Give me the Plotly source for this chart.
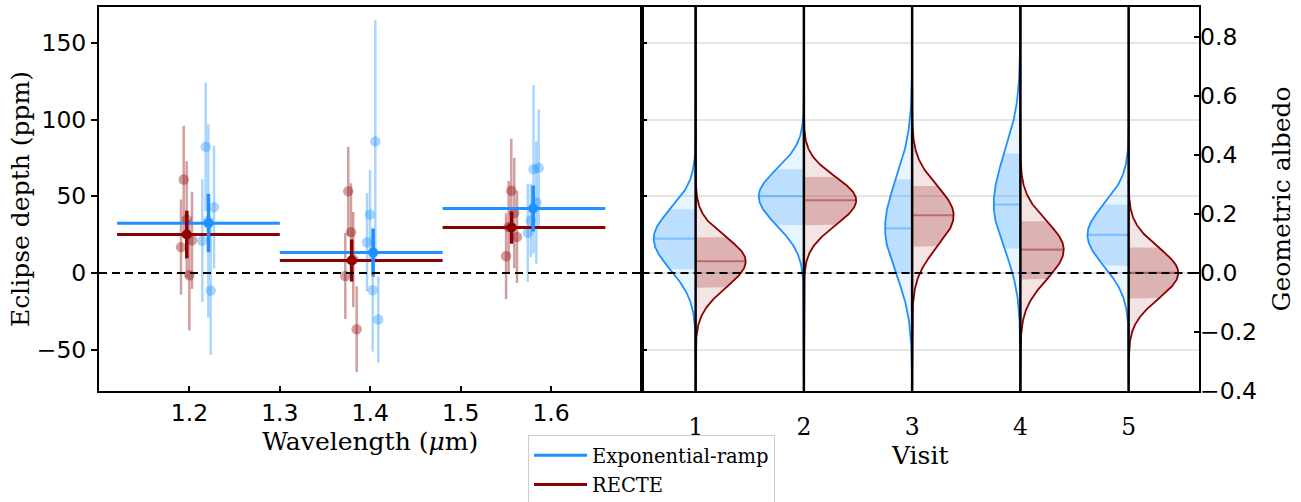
import numpy as np
import plotly.graph_objects as go

# ---------------- data ----------------
# wavelength bins (micron)
bin_lo = [1.12, 1.30, 1.48]
bin_hi = [1.30, 1.48, 1.66]

# band-averaged eclipse depths (ppm)
exp_wl = [1.2211, 1.4032, 1.5802]
exp_depth = [32.4, 13.3, 42.0]
exp_err = [19.0, 15.7, 15.0]

recte_wl = [1.1971, 1.3795, 1.5563]
recte_depth = [25.0, 8.1, 29.6]
recte_err = [15.5, 13.7, 10.5]

# individual-visit spectral points (ppm)
exp_visit_wl = [1.2143, 1.2180, 1.2209, 1.2235, 1.2272,
                1.3964, 1.3997, 1.4027, 1.4056, 1.4089,
                1.5742, 1.5775, 1.5806, 1.5837, 1.5863]
exp_visit_depth = [21.0, 82.2, 34.0, -11.5, 42.9,
                   20.0, 38.1, -11.3, 85.7, -30.4,
                   26.1, 34.2, 67.6, 45.9, 68.5]
exp_visit_err = [40, 42, 63, 42, 40,
                 32, 29, 40, 79, 28,
                 32, 24, 55, 40, 38]

recte_visit_wl = [1.1907, 1.1937, 1.1970, 1.1999, 1.2029,
                  1.3724, 1.3757, 1.3787, 1.3812, 1.3850,
                  1.5502, 1.5531, 1.5560, 1.5593, 1.5623]
recte_visit_depth = [16.8, 60.9, 34.8, -1.5, 21.3,
                     -2.0, 53.3, 26.5, 8.7, -36.7,
                     10.9, 30.0, 53.5, 39.1, 23.5]
recte_visit_err = [31, 35, 38, 36, 31.7,
                   28, 29, 32, 31, 28,
                   28, 30, 34, 36, 30]

# per-visit white-light posteriors (ppm): median and 16/84 percentiles
visits = [1, 2, 3, 4, 5]
exp_med = [22.4, 50.0, 29.1, 44.6, 24.8]
exp_lo = [2.2, 31.1, 0.0, 15.9, 4.6]
exp_hi = [41.5, 67.6, 60.9, 77.8, 44.6]
exp_min = [-77, -77, -77, -77, -77]
exp_max = [173.4, 173.4, 173.4, 173.4, 173.4]

recte_med = [7.6, 47.4, 37.6, 15.2, 0.0]
recte_lo = [-9.6, 31.1, 17.0, -4.3, -16.7]
recte_hi = [23.3, 62.6, 56.7, 33.7, 16.5]
recte_min = [-77, -77, -77, -77, -57]
recte_max = [173.4, 173.4, 173.4, 173.4, 60]

depth_ticks = [-50, 0, 50, 100, 150]
wl_ticks = [1.2, 1.3, 1.4, 1.5, 1.6]
albedo_ticks = [-0.4, -0.2, 0.0, 0.2, 0.4, 0.6, 0.8]

# ---------------- style ----------------
BLUE = "#1E90FF"
RED = "#8B0000"
def rgba(hexc, a):
    h = hexc.lstrip("#")
    return "rgba(%d,%d,%d,%.3f)" % (int(h[0:2], 16), int(h[2:4], 16), int(h[4:6], 16), a)

Y_RANGE = [-77.0, 173.4]
ALB_PER_PPM = 0.0052
VIOLIN_SCALE = 19.08  # x-units * ppm (area normalisation of violins)
SANS = "DejaVu Sans"
SERIF = "DejaVu Serif"
TICK_SIZE = 23.5
TITLE_SIZE = 25

fig = go.Figure()

# ---------------- left panel ----------------
for wl, d, e, col in [(recte_visit_wl, recte_visit_depth, recte_visit_err, RED),
                      (exp_visit_wl, exp_visit_depth, exp_visit_err, BLUE)]:
    fig.add_trace(go.Scatter(
        x=wl, y=d, mode="markers", showlegend=False, hoverinfo="skip",
        marker=dict(size=10.5, color=rgba(col, 0.38), line=dict(width=0)),
        error_y=dict(type="data", array=e, visible=True, color=rgba(col, 0.38),
                     thickness=2.5, width=0),
        xaxis="x", yaxis="y"))

for name, lo, hi, d, col in [("Exponential-ramp", bin_lo, bin_hi, exp_depth, BLUE),
                             ("RECTE", bin_lo, bin_hi, recte_depth, RED)]:
    xs, ys = [], []
    for a, b, v in zip(lo, hi, d):
        xs += [a, b, None]
        ys += [v, v, None]
    fig.add_trace(go.Scatter(x=xs, y=ys, mode="lines", name=name,
                             line=dict(color=col, width=3), legendgroup=name,
                             xaxis="x", yaxis="y"))

for wl, d, e, col in [(recte_wl, recte_depth, recte_err, RED),
                      (exp_wl, exp_depth, exp_err, BLUE)]:
    fig.add_trace(go.Scatter(
        x=wl, y=d, mode="markers", showlegend=False,
        marker=dict(size=10, color=col),
        error_y=dict(type="data", array=e, visible=True, color=col, thickness=3.5, width=0),
        xaxis="x", yaxis="y"))

# ---------------- right panel: split violins ----------------
def pdf(y, med, slo, shi):
    c = 2.0 / (np.sqrt(2 * np.pi) * (slo + shi))
    s = np.where(y < med, slo, shi)
    return c * np.exp(-0.5 * ((y - med) / s) ** 2)

for med_a, lo_a, hi_a, mn_a, mx_a, col, side in [
        (exp_med, exp_lo, exp_hi, exp_min, exp_max, BLUE, -1),
        (recte_med, recte_lo, recte_hi, recte_min, recte_max, RED, 1)]:
    bx, by, kx, ky, mx_, my_ = [], [], [], [], [], []
    for v, m, lo, hi, mn, mx in zip(visits, med_a, lo_a, hi_a, mn_a, mx_a):
        slo, shi = m - lo, hi - m
        yy = np.linspace(mn, mx, 500)
        w = VIOLIN_SCALE * pdf(yy, m, slo, shi)
        bx += [v] + list(v + side * w) + [v, None]
        by += [mn] + list(yy) + [mx, None]
        yb = np.linspace(lo, hi, 120)
        wb = VIOLIN_SCALE * pdf(yb, m, slo, shi)
        kx += [v] + list(v + side * wb) + [v, None]
        ky += [lo] + list(yb) + [hi, None]
        wm = VIOLIN_SCALE * pdf(np.array([m]), m, slo, shi)[0]
        mx_ += [v, v + side * wm, None]
        my_ += [m, m, None]
    fig.add_trace(go.Scatter(x=bx, y=by, mode="lines", fill="toself",
                             fillcolor=rgba(col, 0.10), line=dict(color=col, width=1.8),
                             showlegend=False, hoverinfo="skip", xaxis="x2", yaxis="y2"))
    fig.add_trace(go.Scatter(x=kx, y=ky, mode="lines", fill="toself",
                             fillcolor=rgba(col, 0.22), line=dict(width=0),
                             showlegend=False, hoverinfo="skip", xaxis="x2", yaxis="y2"))
    fig.add_trace(go.Scatter(x=mx_, y=my_, mode="lines",
                             line=dict(color=rgba(col, 0.40), width=2.2),
                             showlegend=False, hoverinfo="skip", xaxis="x2", yaxis="y2"))

# invisible trace to activate the albedo axis
fig.add_trace(go.Scatter(x=[visits[0]], y=[0], mode="markers", marker=dict(opacity=0),
                         showlegend=False, hoverinfo="skip", xaxis="x2", yaxis="y3"))

# ---------------- shapes ----------------
shapes = []
for xr, yr in [("x domain", "y"), ("x2 domain", "y2")]:
    shapes.append(dict(type="line", xref=xr, yref=yr, x0=0, x1=1, y0=0, y1=0,
                       line=dict(color="black", width=2, dash="8px,5px"), layer="above"))
for v in visits:
    shapes.append(dict(type="line", xref="x2", yref="y2 domain", x0=v, x1=v, y0=0, y1=1,
                       line=dict(color="black", width=2.5), layer="above"))

PLOT_L, PLOT_R, PLOT_T, PLOT_B = 99, 1199, 7, 391
PW, PH = PLOT_R - PLOT_L, PLOT_B - PLOT_T
split = (641.5 - PLOT_L) / PW
axis_common = dict(showline=True, linecolor="black", linewidth=2, mirror=True,
                   zeroline=False, tickcolor="black", tickwidth=2)

fig.update_layout(
    width=1301, height=502, autosize=False,
    margin=dict(l=PLOT_L, r=1301 - PLOT_R, t=PLOT_T, b=502 - PLOT_B, autoexpand=False),
    paper_bgcolor="white", plot_bgcolor="white",
    shapes=shapes,
    font=dict(family=SANS, size=TICK_SIZE, color="black"),
    xaxis=dict(domain=[0, split], range=[1.1, 1.7], tickvals=wl_ticks, ticktext=[f"{t:.1f}" for t in wl_ticks],
               ticks="inside", ticklen=5, showgrid=False,
               tickfont=dict(family=SANS, size=TICK_SIZE),
               title=dict(text="Wavelength (<i>μ</i>m)", font=dict(family=SERIF, size=TITLE_SIZE), standoff=0),
               anchor="y", **axis_common),
    yaxis=dict(domain=[0, 1], range=Y_RANGE, tickvals=depth_ticks, ticks="outside", ticklen=6,
               showgrid=False, tickfont=dict(family=SANS, size=TICK_SIZE),
               title=dict(text="Eclipse depth (ppm)", font=dict(family=SERIF, size=TITLE_SIZE), standoff=0),
               anchor="x", **axis_common),
    xaxis2=dict(domain=[split, 1], range=[0.5, 5.65], tickvals=visits, ticks="", showgrid=False,
                tickfont=dict(family=SERIF, size=TICK_SIZE), ticklabelstandoff=14,
                title=dict(text="Visit", font=dict(family=SERIF, size=TITLE_SIZE), standoff=4),
                anchor="y2", **axis_common),
    yaxis2=dict(domain=[0, 1], range=Y_RANGE, tickvals=depth_ticks, ticks="inside", ticklen=5,
                showticklabels=False, showgrid=True, gridcolor="#e5e5e5", gridwidth=1.5,
                anchor="x2", **axis_common),
    yaxis3=dict(overlaying="y2", anchor="x2", side="right",
                range=[Y_RANGE[0] * ALB_PER_PPM, Y_RANGE[1] * ALB_PER_PPM],
                tickvals=albedo_ticks, ticktext=[f"{t:.1f}".replace("-", "\u2212") for t in albedo_ticks],
                ticks="inside", ticklen=5, tickcolor="black", tickwidth=2, showgrid=False,
                zeroline=False, showline=False, tickfont=dict(family=SANS, size=TICK_SIZE),
                title=dict(text="Geometric albedo", font=dict(family=SERIF, size=TITLE_SIZE), standoff=16)),
    legend=dict(x=(528 - PLOT_L) / PW, y=(PLOT_B - 435) / PH, xanchor="left", yanchor="top",
                font=dict(family=SERIF, size=19.5), bordercolor="#cccccc", borderwidth=1,
                bgcolor="white", tracegroupgap=1, itemwidth=53),
)

fig.write_html("out.html")
